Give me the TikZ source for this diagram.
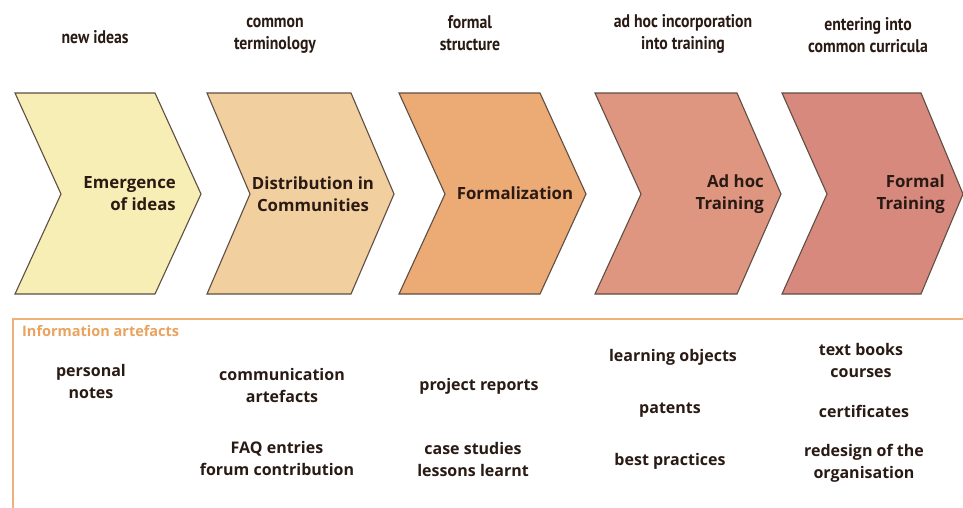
\documentclass[tikz,border=0pt]{standalone}
\usepackage{fontspec}
\setmainfont{Open Sans}
\newfontfamily\narrowfont[FakeStretch=0.86]{PT Sans}
\usepackage{xcolor}
\definecolor{chevA}{HTML}{F6EEB4}
\definecolor{chevB}{HTML}{F1CF9F}
\definecolor{chevC}{HTML}{ECAA74}
\definecolor{chevD}{HTML}{DE9680}
\definecolor{chevE}{HTML}{D8897E}
\definecolor{edgegray}{HTML}{5E4E44}
\definecolor{frameorange}{HTML}{F0B07A}
\definecolor{titleorange}{HTML}{E9A35E}
\definecolor{inkdark}{HTML}{2A1A14}
\tikzstyle{phase label}=[
        font = \bfseries\fontsize{16.8}{22}\selectfont,
        text = inkdark,
        inner sep = 0pt
    ]
\tikzstyle{top label}=[
    font = \narrowfont\bfseries\fontsize{18.3}{22}\selectfont,
    text = inkdark,
    align = center,
    inner sep = 0pt
]
\tikzstyle{artefact}=[
    font = \bfseries\fontsize{16}{22}\selectfont,
    text = inkdark,
    align = center,
    inner sep = 0pt
]

\begin{document}
\begin{tikzpicture}[x=1pt, y=-1pt]
        \useasboundingbox (0,0) rectangle (963,507);
        \fill[white] (0,0) rectangle (963,507);

        % process chevrons
        \foreach \l/\r/\t/\n/\c in {15/155/201/61/chevA, 207/351/394/250/chevB, 399/540/586/445/chevC, 595/737/781/641/chevD, 782/921/963/827/chevE}
            \draw[edgegray, line width=1.1pt, fill=\c] (\l,93) -- (\r,93) -- (\t,194) -- (\r,294) -- (\l,294) -- (\n,194) -- cycle;

        \node[phase label, align=right, anchor=east] (emergence) at (176,194) {Emergence\\of ideas};
        \node[phase label, align=center] (distribution) at (313,194) {Distribution in\\Communities};
        \node[phase label] (formalization) at (515,193) {Formalization};
        \node[phase label, align=right, anchor=east] (adhoc) at (764,194) {Ad hoc\\Training};
        \node[phase label, align=right, anchor=east] (formal) at (945,194) {Formal\\Training};

        \node[top label] (newideas) at (95,37) {new ideas};
        \node[top label] (terminology) at (275,36) {common\\terminology};
        \node[top label] (structure) at (470,33) {formal\\structure};
        \node[top label] (incorporation) at (683,34) {ad hoc incorporation\\into training};
        \node[top label] (curricula) at (868,35) {entering into\\common curricula};

        % information artefacts
        \draw[frameorange, line width=2pt] (13,520) -- (13,319) -- (975,319);
        \node[font=\bfseries\fontsize{14.5}{16}\selectfont, text=titleorange, anchor=west, inner sep=0pt] (infotitle) at (22,331) {Information artefacts};

        \node[artefact] (notes) at (91,381) {personal\\notes};
        \node[artefact] (communication) at (282,385) {communication\\artefacts};
        \node[artefact] (faq) at (277,458) {FAQ entries\\forum contribution};
        \node[artefact] (reports) at (479,386) {project reports};
        \node[artefact] (cases) at (473,459) {case studies\\lessons learnt};
        \node[artefact] (learning) at (673,357) {learning objects};
        \node[artefact] (patents) at (670,410) {patents};
        \node[artefact] (practices) at (670,461) {best practices};
        \node[artefact] (textbooks) at (861,360) {text books\\courses};
        \node[artefact] (certificates) at (864,411) {certificates};
        \node[artefact] (redesign) at (864,463) {redesign of the\\organisation};

    \end{tikzpicture}
\end{document}
